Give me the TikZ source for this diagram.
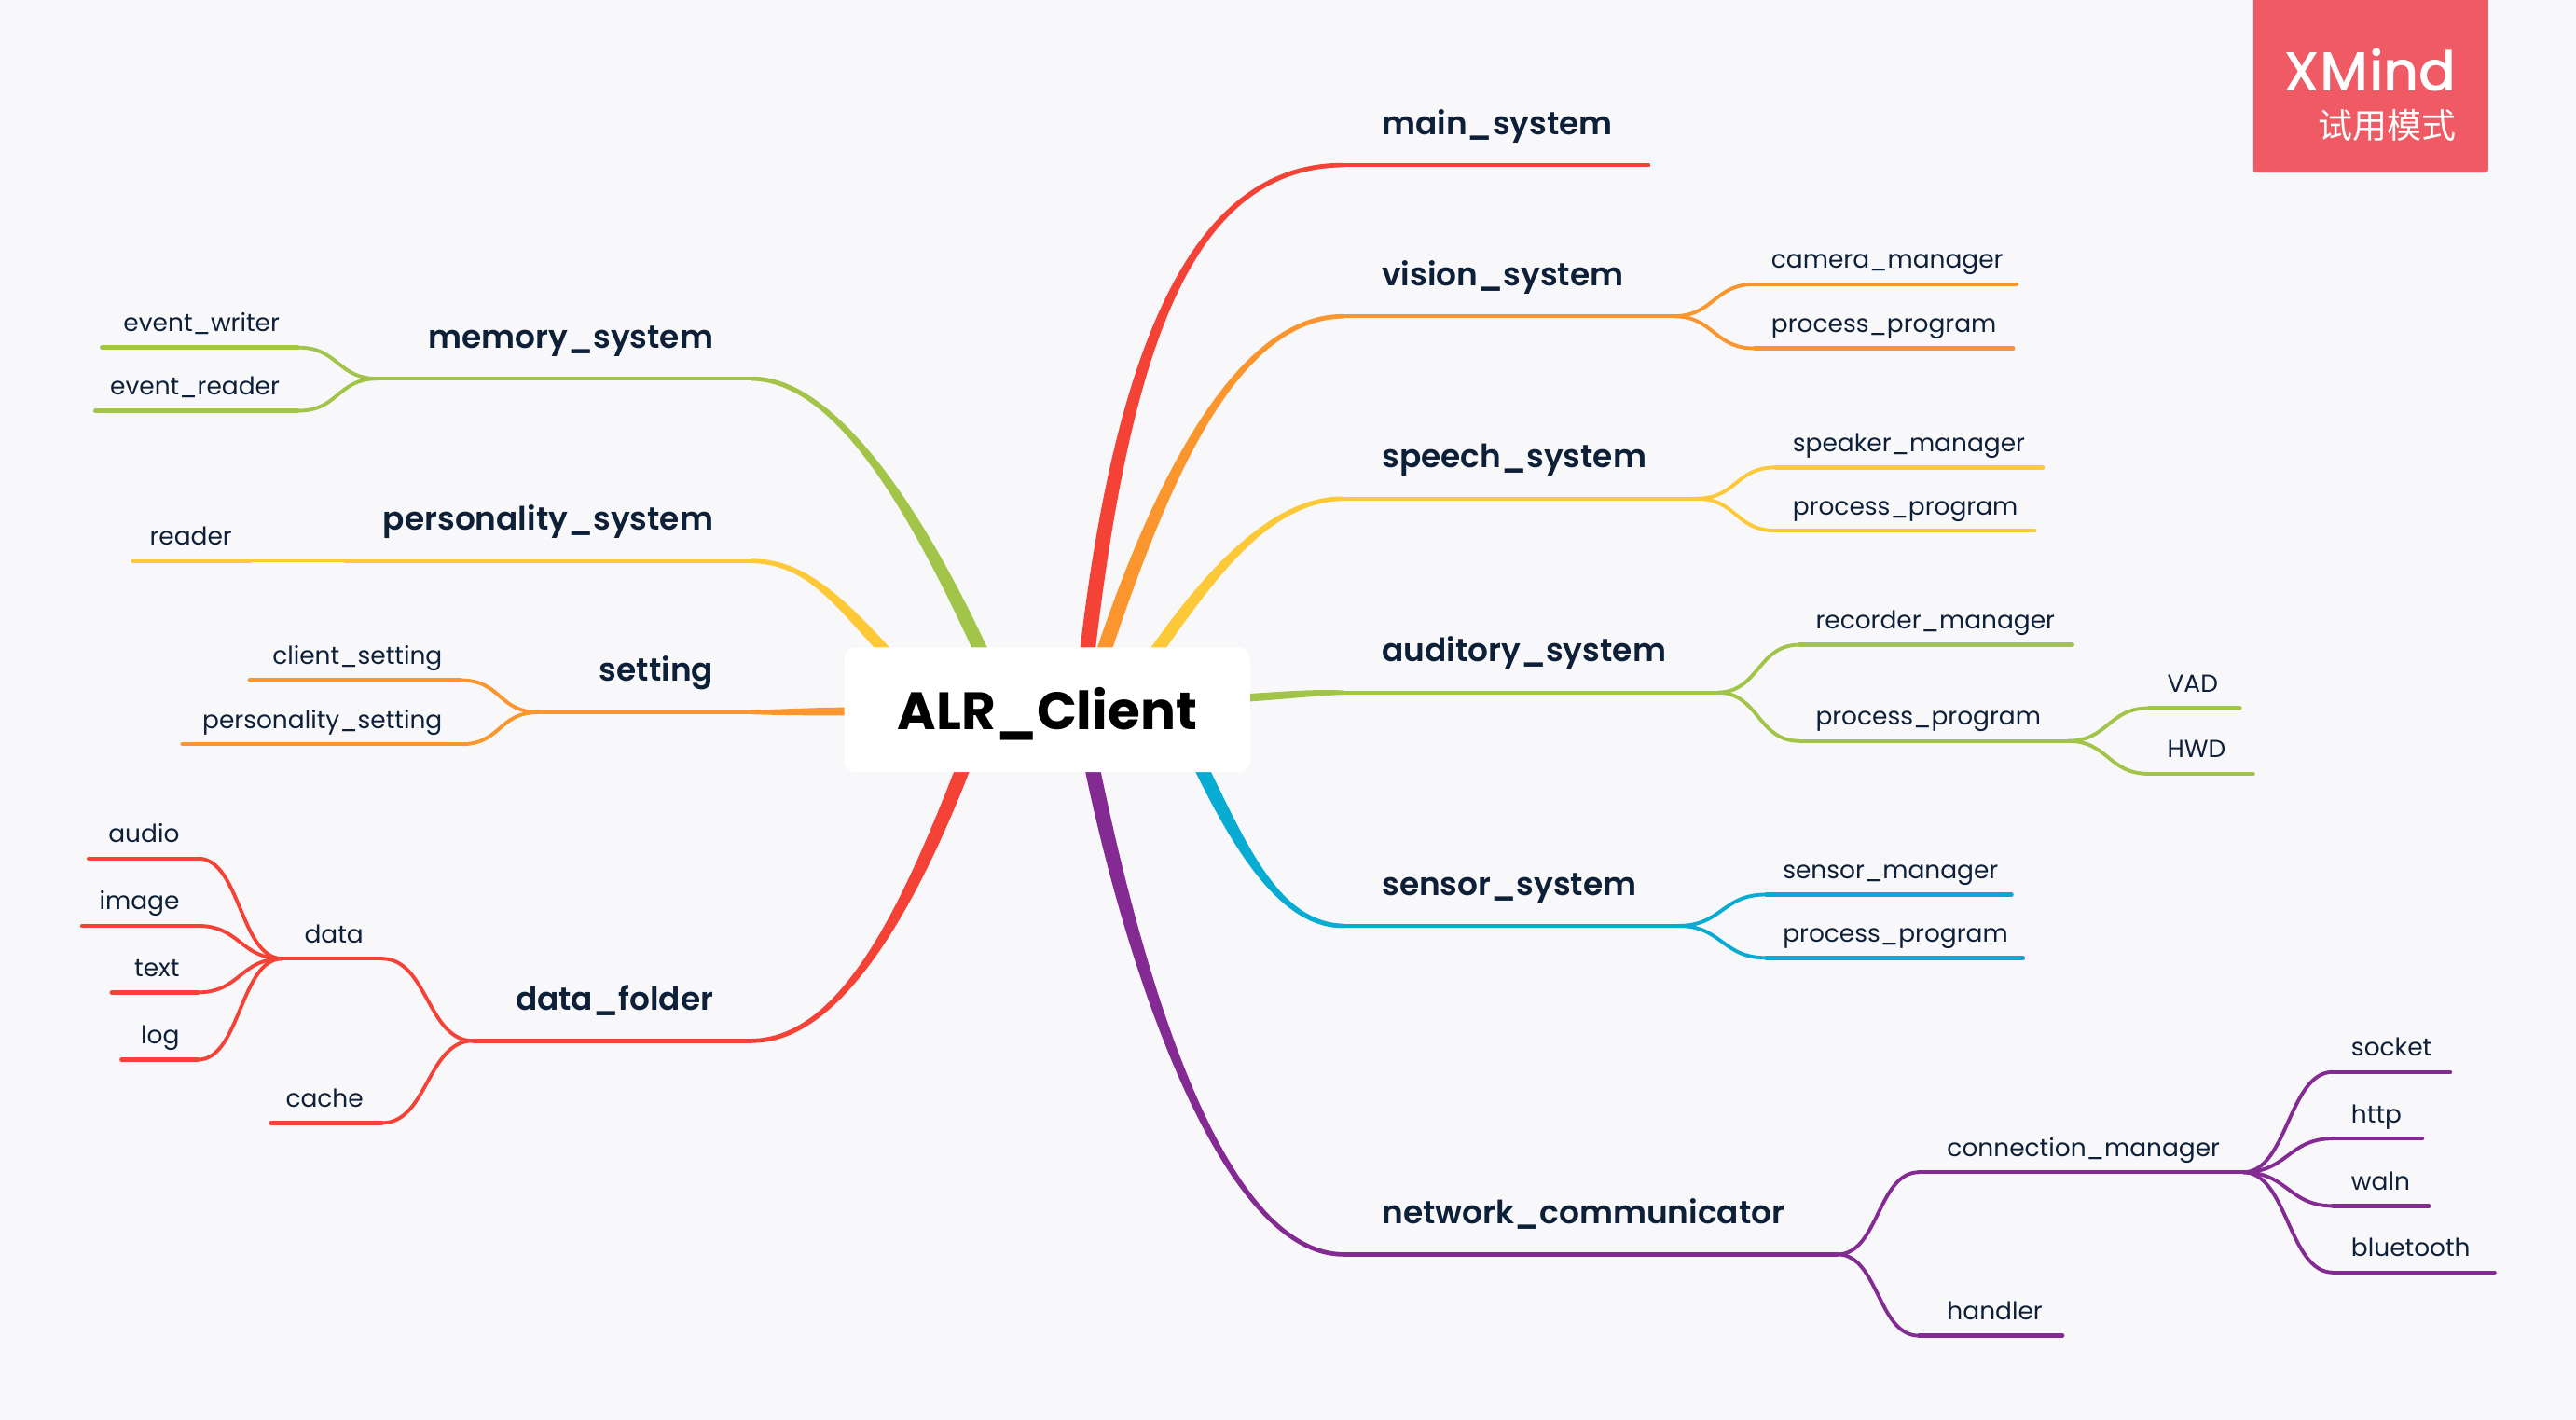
\documentclass[tikz,border=0pt]{standalone}
\usepackage{fontspec}
\setmainfont{Poppins}
\newfontfamily\topicfont{Poppins SemiBold}
\newfontfamily\rootfont{Poppins}[UprightFont=*-Bold]
\newfontfamily\markfont{Poppins Medium}
\newfontfamily\cjk{Noto Sans CJK SC}
\usetikzlibrary{calc}

\definecolor{canvas}{HTML}{F8F8FB}
\definecolor{ink}{HTML}{0E2038}
\definecolor{cred}{HTML}{F44336}
\definecolor{corange}{HTML}{FB962E}
\definecolor{cyellow}{HTML}{FDC938}
\definecolor{cgreen}{HTML}{A2C449}
\definecolor{cblue}{HTML}{08ABD1}
\definecolor{cpurple}{HTML}{842A93}
\definecolor{cbadge}{HTML}{F05A64}
\hyphenpenalty=10000

% tapered main branch: colour, node corner, two controls, end at the box, half width there
\newcommand{\branch}[6]{
	\fill[#1] ($(#2)+(0,-1.3)$) .. controls ($(#3)+(0,-2)$) and ($(#4)+(#6)$) .. ($(#5)+(#6)$)
		-- ($(#5)-(#6)$) .. controls ($(#4)-(#6)$) and ($(#3)+(0,2)$) .. ($(#2)+(0,1.3)$) -- cycle;
}

\begin{document}
\begin{tikzpicture}[x=1pt,y=-1pt]
	\useasboundingbox[fill=canvas] (0,0) rectangle (1568,864.3);
	\begin{scope}
		[
			base/.style={inner xsep=0pt, text depth=0pt, text=ink, text width=#1},
			topicR/.style={base=#1, anchor=south west, inner ysep=18.5pt, align=left,
				font=\topicfont\fontsize{19.5}{25}\selectfont, execute at begin node={\hspace*{23pt}}},
			topicL/.style={base=#1, anchor=south west, inner ysep=18.5pt, align=right,
				font=\topicfont\fontsize{19.5}{25}\selectfont, execute at end node={\hspace*{23pt}}},
			leafR/.style 2 args={base=#1, anchor=south west, inner ysep=9.5pt, align=left,
				font=\fontsize{15}{19}\selectfont, execute at begin node={\hspace*{#2}}},
			leafL/.style={base=#1, anchor=south west, inner ysep=9.5pt, align=right,
				font=\fontsize{15}{19}\selectfont, execute at end node={\hspace*{11pt}}},
		]
		% right side
		\node(main_system)[topicR=185pt] at (818,100.5) {main\_system};
		\node(vision_system)[topicR=200pt] at (818,192.5) {vision\_system};
		\node(camera_manager)[leafR={159pt}{10pt}] at (1068,173) {camera\_manager};
		\node(vision_process)[leafR={157pt}{10pt}] at (1068,212) {process\_program};
		\node(speech_system)[topicR=214pt] at (818,303.5) {speech\_system};
		\node(speaker_manager)[leafR={162pt}{10pt}] at (1081,284.5) {speaker\_manager};
		\node(speech_process)[leafR={157pt}{10pt}] at (1081,323) {process\_program};
		\node(auditory_system)[topicR=227pt] at (818,421.5) {auditory\_system};
		\node(recorder_manager)[leafR={166pt}{10pt}] at (1095,392.5) {recorder\_manager};
		\node(auditory_process)[leafR={163pt}{10pt}] at (1095,451) {process\_program};
		\node(vad)[leafR={55pt}{11pt}] at (1308,431) {VAD};
		\node(hwd)[leafR={63pt}{11pt}] at (1308,471) {HWD};
		\node(sensor_system)[topicR=203pt] at (818,563.5) {sensor\_system};
		\node(sensor_manager)[leafR={149pt}{10pt}] at (1075,544.5) {sensor\_manager};
		\node(sensor_process)[leafR={156pt}{10pt}] at (1075,583) {process\_program};
		\node(network_communicator)[topicR=300pt] at (818,763.5) {network\_communicator};
		\node(connection_manager)[leafR={197pt}{17pt}] at (1168,713.5) {connection\_manager};
		\node(handler)[leafR={87pt}{17pt}] at (1168,813) {handler};
		\node(socket)[leafR={71pt}{11pt}] at (1420,652.5) {socket};
		\node(http)[leafR={54pt}{11pt}] at (1420,693) {http};
		\node(waln)[leafR={58pt}{11pt}] at (1420,734) {waln};
		\node(bluetooth)[leafR={98pt}{11pt}] at (1420,774.5) {bluetooth};
		% left side
		\node(memory_system)[topicL=227pt] at (230,230.5) {memory\_system};
		\node(event_writer)[leafL=119pt] at (62,211.5) {event\_writer};
		\node(event_reader)[leafL=123pt] at (58,250) {event\_reader};
		\node(personality_system)[topicL=247pt] at (210,341.5) {personality\_system};
		\node(reader)[leafL=71pt] at (81,341.5) {reader};
		\node(setting)[topicL=129pt] at (328,433.5) {setting};
		\node(client_setting)[leafL=128pt] at (152,414) {client\_setting};
		\node(personality_setting)[leafL=169pt] at (111,453) {personality\_setting};
		\node(data_folder)[topicL=169pt] at (288,633.5) {data\_folder};
		\node(data)[leafL=60pt] at (172,583.5) {data};
		\node(cache)[leafL=67pt] at (165,683.5) {cache};
		\node(audio)[leafL=66pt] at (54,522.5) {audio};
		\node(image)[leafL=70pt] at (50,563.5) {image};
		\node(text)[leafL=52pt] at (68,604) {text};
		\node(log)[leafL=46pt] at (74,645) {log};
		% end of each branch under the box
		\coordinate (main_in) at (662,396);
		\coordinate (vision_in) at (672,396);
		\coordinate (speech_in) at (704,396);
		\coordinate (auditory_in) at (755,425);
		\coordinate (sensor_in) at (731.5,468);
		\coordinate (network_in) at (665,468);
		\coordinate (memory_in) at (597,396);
		\coordinate (personality_in) at (538.5,396);
		\coordinate (setting_in) at (520,433);
		\coordinate (data_in) at (586,468);
	\end{scope}

	\branch{cred}{main_system.south west}{730,100.5}{685,200}{main_in}{-4.7,0}
	\branch{corange}{vision_system.south west}{755,192.5}{709,286}{vision_in}{-4.7,0}
	\branch{cyellow}{speech_system.south west}{775,303.5}{739,346}{speech_in}{-4.7,0}
	\branch{cgreen}{auditory_system.south west}{800,421.5}{785,423}{auditory_in}{0,-2.4}
	\branch{cblue}{sensor_system.south west}{780,563.5}{756,518}{sensor_in}{4.7,0}
	\branch{cpurple}{network_communicator.south west}{745,763.5}{692,598}{network_in}{4.7,0}
	\branch{cgreen}{memory_system.south east}{510,230.5}{560,316}{memory_in}{4.7,0}
	\branch{cyellow}{personality_system.south east}{490,341.5}{511,366}{personality_in}{4.7,0}
	\branch{corange}{setting.south east}{480,433.5}{500,433}{setting_in}{0,-2.5}
	\branch{cred}{data_folder.south east}{510,633.5}{551,558}{data_in}{-4.7,0}

	\begin{scope}
		[ line/.style = {line width=2.5pt, line cap=round},
			link/.style = {line width=2.2pt, to path={.. controls +(#1,0) and +(-#1,0) .. (\tikztotarget)}}]
		\path[draw=cred]
		(main_system.south west) edge[line] (main_system.south east);
		\path[draw=corange]
		(vision_system.south west) edge[line] (vision_system.south east)
		(camera_manager.south west) edge[line] (camera_manager.south east)
		(vision_process.south west) edge[line] (vision_process.south east)
		(vision_system.south east) edge[link=25] (camera_manager.south west)
		(vision_system.south east) edge[link=25] (vision_process.south west);
		\path[draw=cyellow]
		(speech_system.south west) edge[line] (speech_system.south east)
		(speaker_manager.south west) edge[line] (speaker_manager.south east)
		(speech_process.south west) edge[line] (speech_process.south east)
		(speech_system.south east) edge[link=25] (speaker_manager.south west)
		(speech_system.south east) edge[link=25] (speech_process.south west);
		\path[draw=cgreen]
		(auditory_system.south west) edge[line] (auditory_system.south east)
		(recorder_manager.south west) edge[line] (recorder_manager.south east)
		(auditory_process.south west) edge[line] (auditory_process.south east)
		(vad.south west) edge[line] (vad.south east)
		(hwd.south west) edge[line] (hwd.south east)
		(auditory_system.south east) edge[link=25] (recorder_manager.south west)
		(auditory_system.south east) edge[link=25] (auditory_process.south west)
		(auditory_process.south east) edge[link=25] (vad.south west)
		(auditory_process.south east) edge[link=25] (hwd.south west);
		\path[draw=cblue]
		(sensor_system.south west) edge[line] (sensor_system.south east)
		(sensor_manager.south west) edge[line] (sensor_manager.south east)
		(sensor_process.south west) edge[line] (sensor_process.south east)
		(sensor_system.south east) edge[link=27] (sensor_manager.south west)
		(sensor_system.south east) edge[link=27] (sensor_process.south west);
		\path[draw=cpurple]
		(network_communicator.south west) edge[line] (network_communicator.south east)
		(connection_manager.south west) edge[line] (connection_manager.south east)
		(handler.south west) edge[line] (handler.south east)
		(socket.south west) edge[line] (socket.south east)
		(http.south west) edge[line] (http.south east)
		(waln.south west) edge[line] (waln.south east)
		(bluetooth.south west) edge[line] (bluetooth.south east)
		(network_communicator.south east) edge[link=25] (connection_manager.south west)
		(network_communicator.south east) edge[link=25] (handler.south west)
		(connection_manager.south east) edge[link=27] (socket.south west)
		(connection_manager.south east) edge[link=27] (http.south west)
		(connection_manager.south east) edge[link=27] (waln.south west)
		(connection_manager.south east) edge[link=27] (bluetooth.south west);
		\path[draw=cgreen]
		(memory_system.south west) edge[line] (memory_system.south east)
		(event_writer.south west) edge[line] (event_writer.south east)
		(event_reader.south west) edge[line] (event_reader.south east)
		(memory_system.south west) edge[link=-25] (event_writer.south east)
		(memory_system.south west) edge[link=-25] (event_reader.south east);
		\path[draw=cyellow]
		(personality_system.south west) edge[line] (personality_system.south east)
		(reader.south west) edge[line] (reader.south east)
		(personality_system.south west) edge[link=-25, line width=1.7pt] (reader.south east);
		\path[draw=corange]
		(setting.south west) edge[line] (setting.south east)
		(client_setting.south west) edge[line] (client_setting.south east)
		(personality_setting.south west) edge[line] (personality_setting.south east)
		(setting.south west) edge[link=-25] (client_setting.south east)
		(setting.south west) edge[link=-25] (personality_setting.south east);
		\path[draw=cred]
		(data_folder.south west) edge[line] (data_folder.south east)
		(data.south west) edge[line] (data.south east)
		(cache.south west) edge[line] (cache.south east)
		(audio.south west) edge[line] (audio.south east)
		(image.south west) edge[line] (image.south east)
		(text.south west) edge[line] (text.south east)
		(log.south west) edge[line] (log.south east)
		(data_folder.south west) edge[link=-28] (data.south east)
		(data_folder.south west) edge[link=-28] (cache.south east)
		(data.south west) edge[link=-26] (audio.south east)
		(data.south west) edge[link=-26] (image.south east)
		(data.south west) edge[link=-26] (text.south east)
		(data.south west) edge[link=-26] (log.south east);
	\end{scope}

	\node(alr_client)[fill=white, rounded corners=7pt, minimum width=247pt, minimum height=76pt] at (637.5,432) {};
	\node(alr_label)[font=\rootfont\fontsize{32}{38}\selectfont, text=black, anchor=base] at (637.5,444) {ALR\_Client};
	\node(badge)[fill=cbadge, rounded corners=1.5pt, minimum width=143pt, minimum height=108pt, inner sep=0pt] at (1443,51) {};
	\node(xmind)[text=white, anchor=base east, inner sep=0pt, font=\markfont\fontsize{33.5}{38}\selectfont] at (1495.5,55.5) {XMind};
	\node(trial)[text=white, anchor=base east, inner sep=0pt, font=\cjk\fontsize{21}{24}\selectfont] at (1495.5,84) {试用模式};
\end{tikzpicture}
\end{document}
